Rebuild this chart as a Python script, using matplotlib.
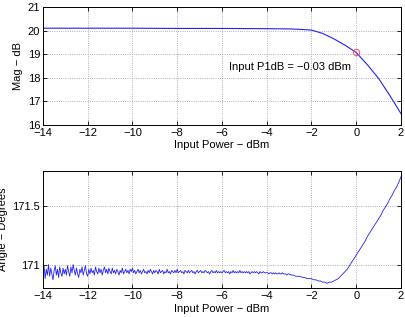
import numpy as np
import matplotlib
matplotlib.use("Agg")
import matplotlib.pyplot as plt

plt.rcParams['font.family'] = ['Liberation Sans', 'DejaVu Sans']
plt.rcParams['axes.unicode_minus'] = True

# Magnitude data (Input power dBm vs gain dB)
mag_x = [-14, -12, -10, -8, -6, -4, -3, -2.5, -2, -1.5, -1, -0.5, 0, 0.5, 1, 1.5, 2]
mag_y = [20.10, 20.10, 20.10, 20.09, 20.09, 20.08, 20.07, 20.05, 20.02, 19.88, 19.65, 19.38, 19.07, 18.55, 17.97, 17.25, 16.48]

p1db_x = -0.03
p1db_y = 19.07
p1db_label = "Input P1dB = \u22120.03 dBm"

# Phase data: noisy part, x from -14 to -3 step 0.05
ang_y_noisy = [
    170.93,170.99,170.88,170.96,170.91,171.00,170.90,170.97,170.92,170.87,170.95,170.99,170.91,170.96,170.89,170.98,170.93,170.90,170.97,170.92,
    170.96,170.91,170.99,170.94,170.90,170.98,170.93,171.00,170.95,170.91,170.97,170.92,170.89,170.96,170.93,170.98,170.91,170.95,170.99,170.92,
    170.90,170.96,170.92,170.97,170.93,170.95,170.91,170.98,170.94,170.92,170.97,170.93,170.96,170.91,170.95,170.98,170.93,170.96,170.92,170.97,
    170.94,170.92,170.97,170.93,170.95,170.92,170.96,170.94,170.91,170.95,170.93,170.97,170.92,170.94,170.96,170.93,170.95,170.92,170.96,170.94,
    170.97,170.93,170.95,170.92,170.94,170.96,170.93,170.95,170.92,170.94,170.96,170.93,170.94,170.92,170.95,170.93,170.96,170.94,170.92,170.95,
    170.93,170.95,170.94,170.92,170.96,170.93,170.94,170.95,170.92,170.94,170.93,170.96,170.93,170.94,170.92,170.95,170.94,170.93,170.95,170.93,
    170.96,170.93,170.94,170.95,170.93,170.94,170.92,170.95,170.94,170.93,170.95,170.93,170.94,170.95,170.93,170.94,170.92,170.94,170.95,170.93,
    170.94,170.95,170.93,170.94,170.93,170.95,170.94,170.93,170.94,170.92,170.94,170.95,170.93,170.94,170.93,170.95,170.93,170.94,170.93,170.94,
    170.93,170.94,170.95,170.93,170.94,170.93,170.94,170.92,170.94,170.93,170.95,170.93,170.94,170.93,170.94,170.93,170.95,170.93,170.94,170.93,
    170.94,170.93,170.94,170.93,170.94,170.92,170.93,170.94,170.93,170.94,170.93,170.94,170.93,170.92,170.94,170.93,170.93,170.94,170.93,170.93,
    170.93,170.93,170.92,170.93,170.93,170.92,170.93,170.92,170.93,170.92,170.92,170.93,170.92,170.92,170.93,170.92,170.92,170.92,170.91,170.92,
    170.92,
]
# Phase data: smooth part, x from -2.9 to 2 step 0.1
ang_y_smooth = [
    170.91, 170.91, 170.90, 170.90, 170.90, 170.89, 170.89, 170.88, 170.88, 170.88,
    170.87, 170.87, 170.86, 170.86, 170.85, 170.85, 170.84, 170.85, 170.85, 170.86,
    170.87, 170.88, 170.90, 170.92, 170.94, 170.96, 170.99, 171.02, 171.05, 171.08,
    171.11, 171.14, 171.17, 171.20, 171.24, 171.27, 171.30, 171.33, 171.36, 171.39,
    171.42, 171.46, 171.49, 171.52, 171.56, 171.59, 171.63, 171.66, 171.70, 171.75,
]
ang_x = np.concatenate([np.linspace(-14, -3, len(ang_y_noisy)),
                        np.linspace(-2.9, 2, len(ang_y_smooth))])
ang_y = np.concatenate([ang_y_noisy, ang_y_smooth])

x_ticks = [-14, -12, -10, -8, -6, -4, -2, 0, 2]
mag_ticks = [16, 17, 18, 19, 20, 21]
ang_ticks = [171, 171.5]

fig = plt.figure(figsize=(4.05, 3.17), dpi=100)
ax1 = fig.add_axes([0.106, 0.606, 0.884, 0.372])
ax2 = fig.add_axes([0.106, 0.0915, 0.884, 0.3695])

line_color = '#2222ee'

ax1.plot(mag_x, mag_y, color=line_color, lw=0.8)
ax1.plot([p1db_x], [p1db_y], 'o', mfc='none', mec='#ff5577', ms=4.5, mew=0.8)
ax1.text(-5.7, 18.45, p1db_label, fontsize=8, va='center', ha='left')
ax1.set_xlim(-14, 2)
ax1.set_ylim(16, 21)
ax1.set_yticks(mag_ticks)
ax1.set_ylabel("Mag \u2212 dB", fontsize=8, labelpad=3)

ax2.plot(ang_x, ang_y, color=line_color, lw=0.6)
ax2.set_xlim(-14, 2)
ax2.set_ylim(170.8, 171.8)
ax2.set_yticks(ang_ticks)
ax2.set_yticklabels(['171', '171.5'])
ax2.set_ylabel("Angle \u2212 Degrees", fontsize=8, labelpad=3)

for ax in (ax1, ax2):
    ax.set_xticks(x_ticks)
    ax.set_xticklabels([str(t).replace('-', '\u2212') for t in x_ticks])
    ax.set_xlabel("Input Power \u2212 dBm", fontsize=8, labelpad=2)
    ax.tick_params(direction='in', labelsize=8, length=3, width=0.6, top=True, right=True, pad=2)
    ax.grid(True, linestyle=':', color='#999999', lw=0.6)
    for s in ax.spines.values():
        s.set_linewidth(0.7)

fig.savefig("out.png", dpi=100)
